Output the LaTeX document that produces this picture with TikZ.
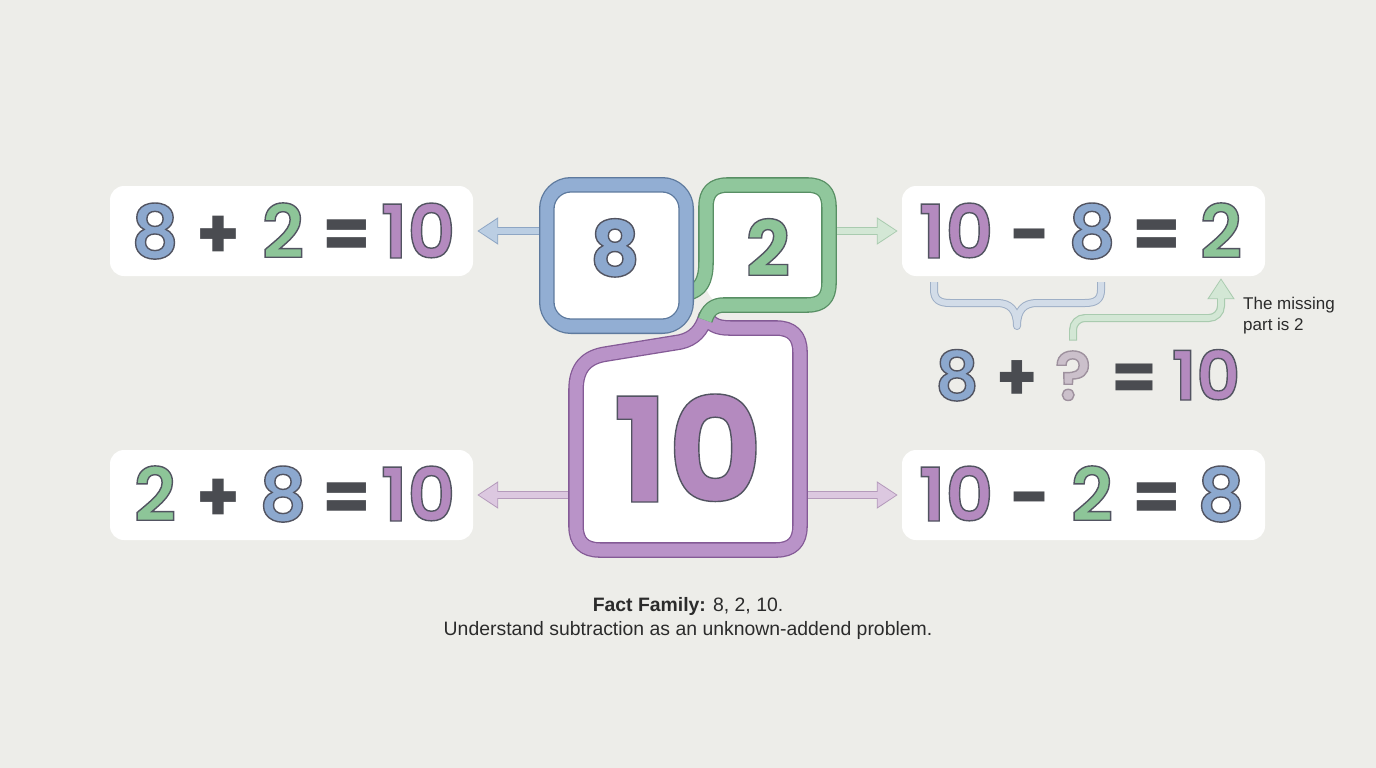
\documentclass[tikz,border=0pt]{standalone}
\usepackage{fontspec}
\setmainfont{Liberation Sans}
\newfontfamily\numfont{Poppins}
\usetikzlibrary{arrows.meta}
\definecolor{bg}{HTML}{EDEDE9}
\definecolor{bluebd}{HTML}{5E7A9E}
\definecolor{blueband}{HTML}{92AED3}
\definecolor{greenbd}{HTML}{588F64}
\definecolor{greenband}{HTML}{90C79C}
\definecolor{purpbd}{HTML}{845A96}
\definecolor{purpband}{HTML}{B993C8}
\definecolor{bluedg}{HTML}{8CA8CE}
\definecolor{greendg}{HTML}{8DC598}
\definecolor{purpdg}{HTML}{B48ABF}
\definecolor{opc}{HTML}{4A4C51}
\definecolor{qc}{HTML}{CBC0CB}
\definecolor{abluef}{HTML}{BBCEE3}
\definecolor{ablueo}{HTML}{8EA6C4}
\definecolor{agreenf}{HTML}{D3E7D5}
\definecolor{agreeno}{HTML}{A9CBAF}
\definecolor{apurpf}{HTML}{DCC8E0}
\definecolor{apurpo}{HTML}{B49ABB}
\definecolor{brf}{HTML}{D2DCE8}
\definecolor{bro}{HTML}{9EAFC6}
\definecolor{txt}{HTML}{2B2B2B}
% outlined, emboldened digits: [outline rgb]{fill colour}{inner width}{outer width}{text}
\newcommand\od[5][0.32 0.33 0.38]{{\color{#2}\rlap{\special{pdf:literal direct 2 Tr #4 w #1 RG}#5}{\color{#2}\special{pdf:literal direct 2 Tr #3 w}#5}\special{pdf:literal direct 0 Tr 0.4 w}}}
% outlined digits, single layer: [outline rgb]{fill colour}{text}
\newcommand\odb[3][0.32 0.33 0.38]{{\color{#2}\special{pdf:literal direct 2 Tr 1.4 w #1 RG}#3\special{pdf:literal direct 0 Tr 0.4 w}}}
\IfFontExistsTF{Poppins SemiBold}
  {\newfontfamily\digfont{Poppins SemiBold}\newcommand\ed[2]{\odb{#1}{#2}}}
  {\newfontfamily\digfont{Poppins}\newcommand\ed[2]{\od{#1}{2.4}{4.0}{#2}}}
\begin{document}
\begin{tikzpicture}[x=1pt,y=-1pt,
  eqbox/.style={fill=white, rounded corners=14pt, minimum width=363pt, minimum height=90pt, inner sep=0pt},
  dig/.style={anchor=base, inner sep=0pt, font=\digfont\fontsize{74pt}{74pt}\selectfont},
  sdig/.style={dig, font=\digfont\fontsize{68pt}{68pt}\selectfont},
  cdig/.style={dig, font=\numfont\bfseries\fontsize{77pt}{77pt}\selectfont},
  bdig/.style={dig, font=\numfont\bfseries\fontsize{145pt}{145pt}\selectfont},
  op/.style={anchor=base, inner sep=0pt, text=opc, font=\numfont\bfseries\fontsize{70pt}{70pt}\selectfont},
  sop/.style={op, font=\numfont\bfseries\fontsize{66pt}{66pt}\selectfont},
  band/.style={line width=1.3pt, double distance=13pt, line join=round},
  aout/.style={line width=8pt, -{Triangle[length=21pt,width=26pt]}, shorten >=4pt},
  ain/.style={line width=5.6pt, -{Triangle[length=18.5pt,width=22.5pt]}, shorten >=5.6pt},
]
\useasboundingbox (0,0) rectangle (1376,768);
\fill[bg] (0,0) rectangle (1376,768);

% equation boxes
\node[eqbox] (eqA) at (291.5,231) {};
\node[eqbox] (eqB) at (1083.5,231) {};
\node[eqbox] (eqC) at (291.5,495) {};
\node[eqbox] (eqD) at (1083.5,495) {};

% central box places
\node[inner sep=0pt, minimum width=139pt, minimum height=141pt] (b8) at (616.5,255.5) {};
\node[inner sep=0pt, minimum width=123pt, minimum height=120pt] (b2) at (767.5,245) {};
\node[inner sep=0pt, minimum width=224pt, minimum height=222pt] (b10) at (688,439) {};

% arrows from the central boxes
\draw[aout, draw=ablueo] (b8.center |- eqA.east) -- (eqA.east);
\draw[ain, draw=abluef] (b8.center |- eqA.east) -- (eqA.east);
\draw[aout, draw=agreeno] (b2.center |- eqB.west) -- (eqB.west);
\draw[ain, draw=agreenf] (b2.center |- eqB.west) -- (eqB.west);
\draw[aout, draw=apurpo] (b10.center |- eqC.east) -- (eqC.east);
\draw[ain, draw=apurpf] (b10.center |- eqC.east) -- (eqC.east);
\draw[aout, draw=apurpo] (b10.center |- eqD.west) -- (eqD.west);
\draw[ain, draw=apurpf] (b10.center |- eqD.west) -- (eqD.west);

% purple box with spout
\draw[band, draw=purpbd, double=purpband, fill=white]
  (706,316) .. controls (702,330) and (694,339) .. (680,342)
  -- (606,354) .. controls (586,357) and (576,368) .. (576,390)
  -- (576,526) .. controls (576,542) and (584,550) .. (600,550)
  -- (776,550) .. controls (792,550) and (800,542) .. (800,526)
  -- (800,352) .. controls (800,336) and (792,328) .. (776,328)
  -- (730,328) .. controls (716,328) and (710,324) .. (706,316) -- cycle;

% green box with tails
\fill[white, rounded corners=22pt] (b2.north west) rectangle (b2.south east);
\draw[band, draw=greenbd, double=greenband]
  (688,293) .. controls (700,290) and (706,282) .. (706,262)
  -- (706,207) .. controls (706,192) and (713,185) .. (728,185)
  -- (807,185) .. controls (822,185) and (829,192) .. (829,207)
  -- (829,283) .. controls (829,298) and (822,305) .. (807,305)
  -- (724,305) .. controls (714,305) and (708,310) .. (705,320);

% blue box
\draw[band, draw=bluebd, double=blueband, fill=white, rounded corners=24pt] (b8.north west) rectangle (b8.south east);

% central numbers
\node[cdig] (c8) at (615,276) {\odb{bluedg}{8}};
\node[cdig] (c2) at (768,276) {\odb{greendg}{2}};
\node[bdig] (c10) at (688,502) {\odb{purpdg}{10}};

% equation 1: 8 + 2 = 10
\node[dig] (p1) at (155,258) {\ed{bluedg}{8}};
\node[op] (p2) at (218,258) {+};
\node[dig] (p3) at (283,258) {\ed{greendg}{2}};
\node[op] (p4) at (347,258) {=};
\node[dig] (p5) at (418,258) {\ed{purpdg}{10}};

% equation 2: 10 - 8 = 2
\node[dig] (r10) at (956,258) {\ed{purpdg}{10}};
\node[op] (rm) at (1029,258) {−};
\node[dig] (r8) at (1092,258) {\ed{bluedg}{8}};
\node[op] (re) at (1157,258) {=};
\node[dig] (r22) at (1221,258) {\ed{greendg}{2}};

% equation 3: 2 + 8 = 10
\node[dig] (s1) at (155,521) {\ed{greendg}{2}};
\node[op] (s2) at (218,521) {+};
\node[dig] (s3) at (283,521) {\ed{bluedg}{8}};
\node[op] (s4) at (347,521) {=};
\node[dig] (s5) at (418,521) {\ed{purpdg}{10}};

% equation 4: 10 - 2 = 8
\node[dig] (t1) at (956,521) {\ed{purpdg}{10}};
\node[op] (t2) at (1029,521) {−};
\node[dig] (t3) at (1092,521) {\ed{greendg}{2}};
\node[op] (t4) at (1157,521) {=};
\node[dig] (t5) at (1221,521) {\ed{bluedg}{8}};

% unknown addend: 8 + ? = 10
\node[sdig] (u8) at (957,400) {\ed{bluedg}{8}};
\node[sop] (up) at (1017,400) {+};
\node[sdig] (q) at (1073,400) {\odb[0.62 0.57 0.62]{qc}{?}};
\node[sop] (ue) at (1134,400) {=};
\node[sdig] (u10) at (1206,400) {\ed{purpdg}{10}};

% brace under 10 - 8
\draw[line width=1pt, draw=bro, double=brf, double distance=6pt, line join=round]
  (934,282) -- (934,290) .. controls (934,300) and (940,303) .. (950,303)
  -- (997,303) .. controls (1010,303) and (1017,310) .. (1017,326)
  .. controls (1017,310) and (1024,303) .. (1037,303)
  -- (1085,303) .. controls (1095,303) and (1101,300) .. (1101,290) -- (1101,282);

% arrow from ? to the 2
\coordinate (gy) at (0,318);
\draw[aout, draw=agreeno, rounded corners=12pt, shorten <=10pt, shorten >=2pt] (q.north) |- (r22 |- gy) -- (r22 |- eqB.south);
\draw[ain, draw=agreenf, rounded corners=12pt, shorten <=11pt, shorten >=3.6pt] (q.north) |- (r22 |- gy) -- (r22 |- eqB.south);

\node[anchor=north west, align=left, inner sep=0pt, text=txt, font=\fontsize{17pt}{21pt}\selectfont] (note) at (1243,297) {The missing\\part is 2};

% caption
\node[anchor=base, inner sep=0pt, text=txt, font=\fontsize{19.4pt}{23pt}\selectfont] (cap1) at (688,611) {\textbf{Fact Family:} 8, 2, 10.};
\node[anchor=base, inner sep=0pt, text=txt, font=\fontsize{19.4pt}{23pt}\selectfont] (cap2) at (688,635) {Understand subtraction as an unknown-addend problem.};
\end{tikzpicture}
\end{document}
